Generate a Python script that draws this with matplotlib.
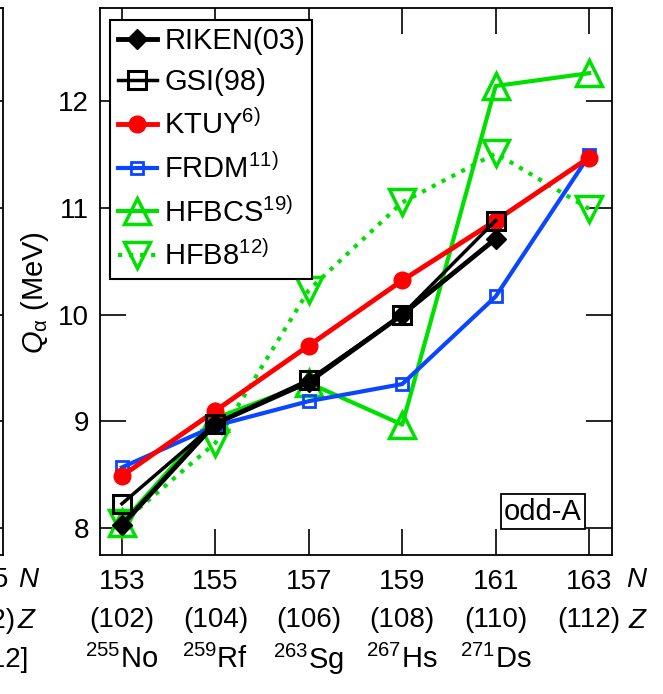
import numpy as np
import matplotlib
matplotlib.use('Agg')
import matplotlib.pyplot as plt

plt.rcParams['font.family'] = ['Liberation Sans', 'DejaVu Sans']
plt.rcParams['mathtext.fontset'] = 'custom'
plt.rcParams['mathtext.rm'] = 'Liberation Sans'
plt.rcParams['mathtext.it'] = 'Liberation Sans:italic'

# neutron number N and proton number Z (odd-A nuclei)
N = [153, 155, 157, 159, 161, 163]
Z = [102, 104, 106, 108, 110, 112]
nuclides = [r'$^{255}$No', r'$^{259}$Rf', r'$^{263}$Sg', r'$^{267}$Hs', r'$^{271}$Ds']

# Q_alpha values (MeV)
riken03 = [8.03, 8.98, 9.37, 10.00, 10.71]
gsi98 = [8.23, 8.98, 9.39, 10.00, 10.88]
ktuy = [8.49, 9.10, 9.71, 10.32, 10.88, 11.47]
frdm = [8.57, 8.96, 9.19, 9.35, 10.17, 11.49]
hfbcs = [8.05, 9.03, 9.36, 8.97, 12.14, 12.26]
hfb8 = [8.05, 8.80, 10.23, 11.05, 11.51, 10.99]

green = '#00e000'
blue = '#0a46ff'

fig = plt.figure(figsize=(6.63, 6.94), dpi=100)
W, H = 663, 694
x0, x1, yt, yb = 100, 612, 8, 555
rect = [x0 / W, 1 - yb / H, (x1 - x0) / W, (yb - yt) / H]
ax = fig.add_axes(rect)

ax.plot(N[:5], riken03, '-', color='black', lw=3.5, marker='D', ms=10,
        mfc='black', mec='black', label='RIKEN(03)', zorder=8)
ax.plot(N[:5], gsi98, '-', color='black', lw=2.5, marker='s', ms=13,
        mfc='none', mec='black', mew=2.2, label='GSI(98)', zorder=7)
ax.plot(N, ktuy, '-', color='red', lw=3.5, marker='o', ms=12,
        mfc='red', mec='red', label=r'KTUY$^{6)}$', zorder=6)
ax.plot(N, frdm, '-', color=blue, lw=3, marker='s', ms=9,
        mfc='none', mec=blue, mew=2, label=r'FRDM$^{11)}$', zorder=5)
ax.plot(N, hfbcs, '-', color=green, lw=3, marker='^', ms=19,
        mfc='none', mec=green, mew=2.5, label=r'HFBCS$^{19)}$', zorder=4)
ax.plot(N, hfb8, ':', color=green, lw=3, marker='v', ms=19,
        mfc='none', mec=green, mew=2.5, label=r'HFB8$^{12)}$', zorder=3)

ax.set_xlim(152.53, 163.49)
ax.set_ylim(7.75, 12.87)
ax.set_xticks(N)
ax.set_xticklabels([f'{n}\n({z})' for n, z in zip(N, Z)], linespacing=1.6)
ax.set_yticks([8, 9, 10, 11, 12])
ax.tick_params(direction='in', length=19, width=1.2, labelsize=20,
               top=True, right=True, pad=8)
ax.tick_params(axis='x', pad=10)
for s in ax.spines.values():
    s.set_linewidth(1.3)

ax.set_ylabel(r'$Q_{\mathrm{\alpha}}$ (MeV)', fontsize=21)
ax.yaxis.set_label_coords(-0.095, 0.48)

leg = ax.legend(loc='upper left', bbox_to_anchor=(0.02, 0.978), borderaxespad=0,
                fontsize=21, frameon=True, fancybox=False, edgecolor='black',
                framealpha=1, handlelength=1.35, handletextpad=0.25,
                labelspacing=0.45, borderpad=0.25)
leg.get_frame().set_linewidth(1.5)
leg.set_zorder(20)

ax.text(0.865, 0.079, 'odd-A', transform=ax.transAxes, fontsize=21,
        ha='center', va='center', zorder=20,
        bbox=dict(boxstyle='square,pad=0.12', fc='white', ec='black', lw=1.3))

# axis letters to the right of the tick labels
fig.text(626 / W, 1 - 580 / H, 'N', fontsize=20, style='italic', va='center')
fig.text(629 / W, 1 - 621 / H, 'Z', fontsize=20, style='italic', va='center')

# nuclide names under the ticks
trans = ax.get_xaxis_transform()
for n, lab in zip(N[:5], nuclides):
    ax.text(n, -0.19, lab, transform=trans, fontsize=21, ha='center',
            va='center', clip_on=False)

# edge of the neighbouring panel on the left
axl = fig.add_axes([-0.3, rect[1], 0.3 + 3 / W, rect[3]])
axl.set_ylim(7.75, 12.87)
axl.set_yticks([8, 9, 10, 11, 12])
axl.set_xticks([])
axl.yaxis.tick_right()
axl.tick_params(axis='y', direction='in', length=19, width=1.2, labelright=False)
for s in axl.spines.values():
    s.set_linewidth(1.3)
fig.text(9 / W, 1 - 580 / H, '165', fontsize=20, ha='right', va='center')
fig.text(18 / W, 1 - 580 / H, 'N', fontsize=20, style='italic', va='center')
fig.text(15 / W, 1 - 621 / H, '(112)', fontsize=20, ha='right', va='center')
fig.text(18 / W, 1 - 621 / H, 'Z', fontsize=20, style='italic', va='center')
fig.text(28 / W, 1 - 660 / H, '[12]', fontsize=20, ha='right', va='center')

fig.savefig('out.png', dpi=100)
